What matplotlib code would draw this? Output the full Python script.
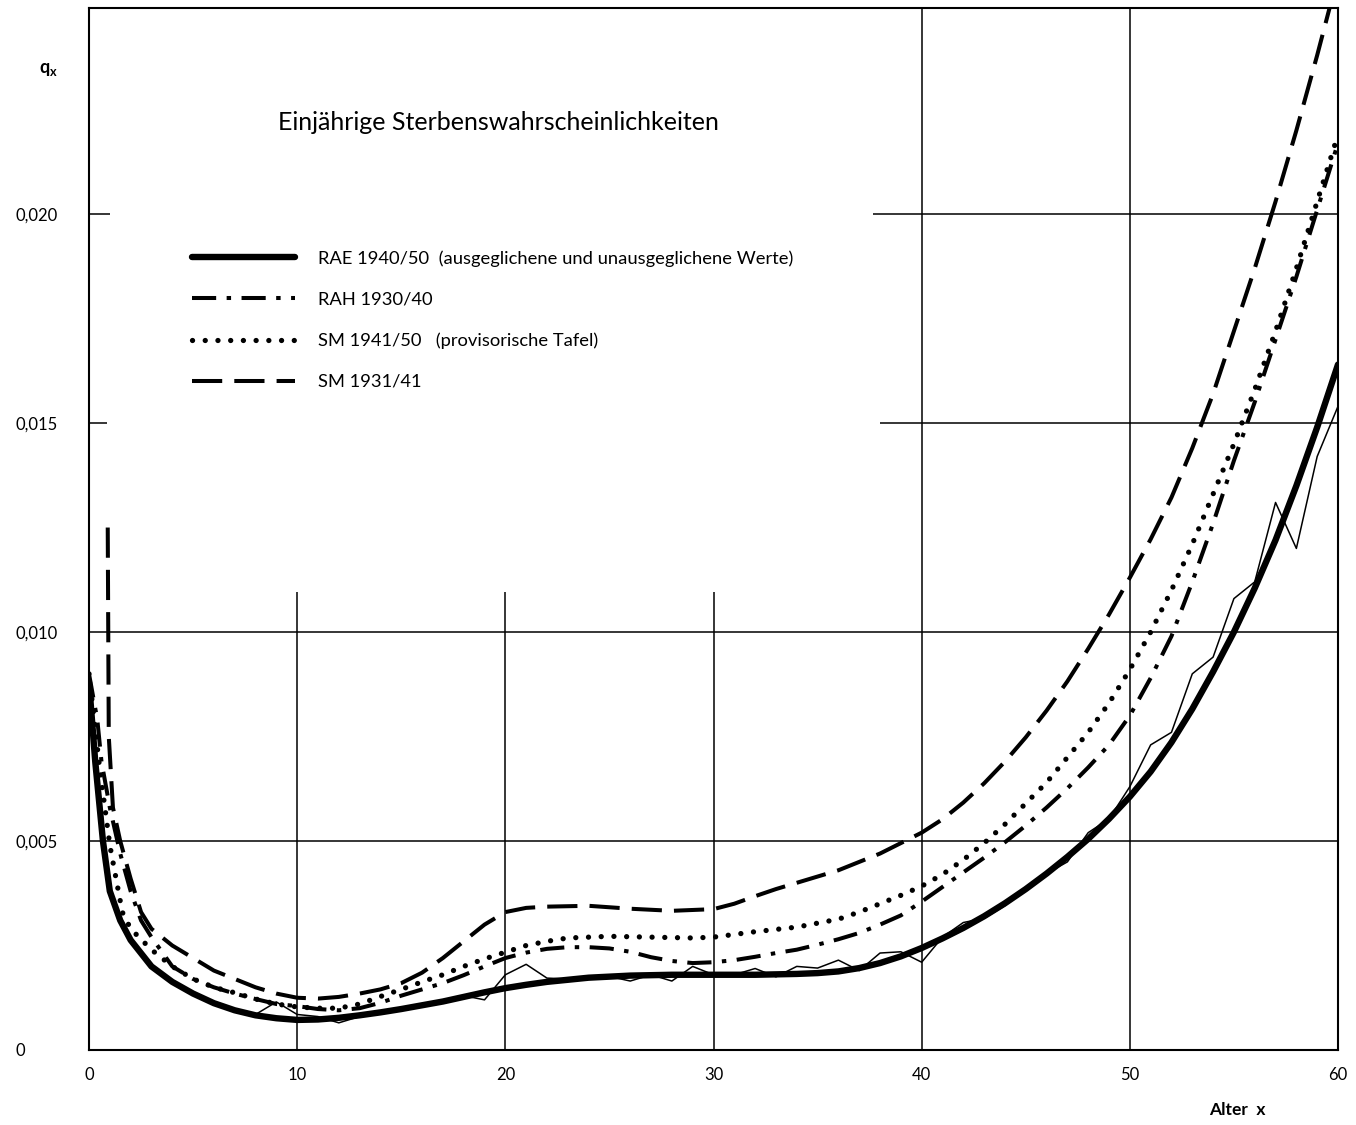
import matplotlib
matplotlib.use("Agg")
import matplotlib.pyplot as plt

plt.rcParams['font.family'] = ['Lato', 'DejaVu Sans']

# ---------------- data ----------------
# RAE 1940/50, smoothed values (thick solid)
rae_x = [0, 0.3, 0.67, 1, 1.5, 2, 3, 4, 5, 6, 7, 8, 9, 10, 11, 12, 13, 14, 15, 16,
         17, 18, 19, 20, 21, 22, 23, 24, 26, 28, 30, 32, 34, 35, 36, 37, 38, 39,
         40, 41, 42, 43, 44, 45, 46, 47, 48, 49, 50, 51, 52, 53, 54, 55, 56, 57,
         58, 59, 60]
rae_q = [0.0088, 0.0069, 0.0050, 0.0038, 0.0031, 0.00263, 0.0020, 0.00163,
         0.00135, 0.00112, 0.00095, 0.00083, 0.00076, 0.00072, 0.00073, 0.00077,
         0.00083, 0.00090, 0.00098, 0.00107, 0.00116, 0.00127, 0.00138, 0.00148,
         0.00156, 0.00163, 0.00168, 0.00173, 0.00178, 0.00180, 0.00180, 0.00180,
         0.00182, 0.00184, 0.00188, 0.00196, 0.00208, 0.00224, 0.00244, 0.00267,
         0.00292, 0.00320, 0.00351, 0.00385, 0.00422, 0.00462, 0.00505, 0.00553,
         0.00606, 0.00666, 0.00736, 0.00816, 0.00905, 0.01000, 0.01105, 0.01220,
         0.01350, 0.01490, 0.01640]

# RAE 1940/50, raw (unsmoothed) values (thin solid)
raw_x = list(range(0, 61))
raw_q = [0.0088, 0.0038, 0.0026, 0.0020, 0.0016, 0.00133, 0.0011, 0.00095,
         0.00085, 0.00115, 0.00085, 0.00080, 0.00065, 0.00080, 0.00090, 0.00098,
         0.00107, 0.00116, 0.00130, 0.00120, 0.00180, 0.00205, 0.00172, 0.00170,
         0.00173, 0.00176, 0.00165, 0.00180, 0.00165, 0.00200, 0.00180, 0.00180,
         0.00195, 0.00175, 0.00200, 0.00196, 0.00215, 0.00190, 0.00232, 0.00235,
         0.00210, 0.00270, 0.00305, 0.00315, 0.00345, 0.00385, 0.00422, 0.00450,
         0.00520, 0.00553, 0.00630, 0.00730, 0.00760, 0.00900, 0.00940, 0.01080,
         0.01120, 0.01310, 0.01200, 0.01420, 0.01540]

# RAH 1930/40 (dash-dot)
rah_x = [0, 0.4, 0.6, 1, 1.5, 2, 2.5, 3, 4, 5, 6, 7, 8, 9, 10, 11, 12, 13, 14,
         15, 16, 17, 18, 19, 20, 21, 22, 23, 24, 25, 26, 27, 28, 29, 30, 31, 32,
         33, 34, 35, 36, 37, 38, 39, 40, 41, 42, 43, 44, 45, 46, 47, 48, 49, 50,
         51, 52, 53, 54, 55, 56, 57, 58, 59, 60]
rah_q = [0.0090, 0.0079, 0.0069, 0.0058, 0.0047, 0.0038, 0.0031, 0.0027, 0.0020,
         0.0017, 0.0015, 0.00135, 0.00122, 0.00110, 0.00105, 0.00098, 0.00095,
         0.00100, 0.00113, 0.00130, 0.00145, 0.00160, 0.00179, 0.00200, 0.00220,
         0.00233, 0.00242, 0.00246, 0.00246, 0.00243, 0.00235, 0.00222, 0.00213,
         0.00208, 0.00210, 0.00215, 0.00223, 0.00232, 0.00240, 0.00252, 0.00265,
         0.00280, 0.00300, 0.00322, 0.00355, 0.00390, 0.00425, 0.00460, 0.00497,
         0.00537, 0.00580, 0.00626, 0.00676, 0.00730, 0.00800, 0.00890, 0.00990,
         0.01120, 0.01260, 0.01410, 0.01550, 0.01700, 0.01850, 0.02010, 0.02170]

# SM 1941/50 (dotted)
sm41_x = [0, 0.5, 1, 1.6, 2, 3, 4, 5, 6, 7, 8, 9, 10, 11, 12, 13, 14, 15, 16, 17,
          18, 19, 20, 21, 22, 23, 25, 27, 29, 30, 32, 34, 36, 37, 38, 39, 40, 41,
          42, 43, 44, 45, 46, 47, 48, 49, 50, 51, 52, 53, 54, 55, 56, 57, 58, 59,
          60]
sm41_q = [0.0090, 0.0068, 0.0049, 0.0033, 0.0029, 0.0024, 0.0020, 0.0017,
          0.0015, 0.00137, 0.00122, 0.00110, 0.00103, 0.00100, 0.00100, 0.00110,
          0.00128, 0.00145, 0.00163, 0.00180, 0.00200, 0.00218, 0.00234, 0.00250,
          0.00260, 0.00268, 0.00272, 0.00270, 0.00268, 0.00270, 0.00283, 0.00294,
          0.00313, 0.00330, 0.00350, 0.00370, 0.00392, 0.00420, 0.00455, 0.00495,
          0.00540, 0.00590, 0.00640, 0.00700, 0.00760, 0.00830, 0.00910, 0.01000,
          0.01100, 0.01210, 0.01330, 0.01450, 0.01580, 0.01720, 0.01870, 0.02030,
          0.02190]

# SM 1931/41 (dashed)
sm31_x = [0.9, 0.95, 1.15, 1.5, 2, 2.5, 3, 4, 5, 6, 7, 8, 9, 10, 11, 12, 13, 14,
          15, 16, 17, 18, 19, 20, 21, 22, 24, 26, 28, 30, 31, 32, 33, 34, 35, 36,
          37, 38, 39, 40, 41, 42, 43, 44, 45, 46, 47, 48, 49, 50, 51, 52, 53, 54,
          55, 56, 57, 58, 59, 60]
sm31_q = [0.0125, 0.0075, 0.0058, 0.0050, 0.0041, 0.0033, 0.0029, 0.0025,
          0.0022, 0.0019, 0.0017, 0.0015, 0.00135, 0.00125, 0.00123, 0.00127,
          0.00135, 0.00145, 0.00160, 0.00185, 0.00220, 0.00260, 0.00300, 0.00330,
          0.00340, 0.00343, 0.00345, 0.00338, 0.00333, 0.00337, 0.00350, 0.00368,
          0.00385, 0.00400, 0.00415, 0.00430, 0.00450, 0.00470, 0.00495, 0.00520,
          0.00552, 0.00592, 0.00638, 0.00690, 0.00748, 0.00812, 0.00882, 0.00960,
          0.01042, 0.01130, 0.01222, 0.01322, 0.01440, 0.01570, 0.01720, 0.01870,
          0.02030, 0.02200, 0.02380, 0.02570]

labels = ["RAE 1940/50  (ausgeglichene und unausgeglichene Werte)",
          "RAH 1930/40",
          "SM 1941/50   (provisorische Tafel)",
          "SM 1931/41"]

x_ticks = [0, 10, 20, 30, 40, 50, 60]
x_ticklabels = ["0", "10", "20", "30", "40", "50", "60"]
y_ticks = [0, 0.005, 0.010, 0.015, 0.020]
y_ticklabels = ["0", "0,005", "0,010", "0,015", "0,020"]

title = "Einjährige Sterbenswahrscheinlichkeiten"

# ---------------- figure ----------------
W, H = 1356, 1125
fig = plt.figure(figsize=(W / 100, H / 100), dpi=100)
ax = fig.add_axes([89 / W, 1 - 1050 / H, (1338 - 89) / W, (1050 - 8) / H])
ax.set_xlim(0, 60)
ax.set_ylim(0, 0.02493)

k = 'black'
glw = 1.1
# grid (partially interrupted by the title / legend area)
ax.hlines([0.005, 0.010], 0, 60, color=k, lw=glw, zorder=1)
ax.hlines(0.020, 0, 1.0, color=k, lw=glw, zorder=1)
ax.hlines(0.020, 37.66, 60, color=k, lw=glw, zorder=1)
ax.hlines(0.015, 0, 0.86, color=k, lw=glw, zorder=1)
ax.hlines(0.015, 38.0, 60, color=k, lw=glw, zorder=1)
ax.vlines([10, 20, 30], 0, 0.01096, color=k, lw=glw, zorder=1)
ax.vlines([40, 50], 0, 0.02493, color=k, lw=glw, zorder=1)

# curves
l1, = ax.plot(rae_x, rae_q, color=k, lw=4.6, solid_capstyle='round',
              solid_joinstyle='round', zorder=5, label=labels[0])
ax.plot(raw_x, raw_q, color=k, lw=1.1, zorder=4)
l2, = ax.plot(rah_x, rah_q, color=k, lw=2.9, dashes=(6, 2.6, 1.1, 2.6),
              zorder=3, label=labels[1])
l3, = ax.plot(sm41_x, sm41_q, color=k, lw=3.8, dashes=(0.01, 2.4),
              dash_capstyle='round', zorder=3, label=labels[2])
l4, = ax.plot(sm31_x, sm31_q, color=k, lw=2.9, dashes=(7.5, 3.0),
              zorder=3, label=labels[3])

# spines
for s in ax.spines.values():
    s.set_linewidth(1.5)
    s.set_color(k)

# ticks
ax.set_xticks(x_ticks)
ax.set_xticklabels(x_ticklabels)
ax.set_yticks(y_ticks)
ax.set_yticklabels(y_ticklabels)
ax.tick_params(axis='both', length=0, labelsize=12)
ax.tick_params(axis='x', pad=12)
ax.tick_params(axis='y', pad=53)
for lab in ax.get_yticklabels():
    lab.set_horizontalalignment('left')

# legend
leg = ax.legend(handles=[l1, l2, l3, l4], loc='upper left',
                bbox_to_anchor=((192 - 89) / 1249, (1050 - 250) / 1042),
                frameon=False, fontsize=13.2, handlelength=5.6,
                handletextpad=1.26, labelspacing=1.36, borderpad=0,
                borderaxespad=0)

# texts
fig.text(498 / W, 1 - 123 / H, title, ha='center', va='center', fontsize=18)
fig.text(48 / W, 1 - 70 / H, r"q$_{\mathregular{x}}$", ha='center', va='center',
         fontsize=13, fontweight='bold')
fig.text(1237 / W, 1 - 1110 / H, "Alter  x", ha='center', va='center',
         fontsize=12.5, fontweight='bold')

fig.savefig("out.png", dpi=100)
